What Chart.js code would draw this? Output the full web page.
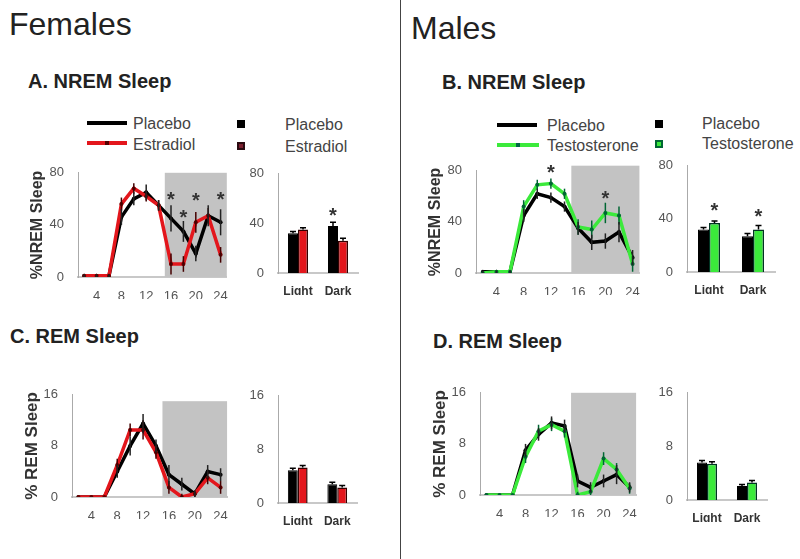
<!DOCTYPE html>
<html><head><meta charset="utf-8">
<script src="https://cdn.jsdelivr.net/npm/chart.js@4"></script>
<style>
body{margin:0;width:800px;height:559px;background:#fff;position:relative;overflow:hidden;font-family:Arial,"Liberation Sans",sans-serif;}
.t{position:absolute;white-space:nowrap;color:#222;line-height:1;}
.lg{position:absolute;white-space:nowrap;color:#444;font-size:16px;line-height:1;}
.ln{position:absolute;height:4px;}
.sq{position:absolute;width:8px;height:8px;box-sizing:border-box;}
canvas{position:absolute;}
#div{position:absolute;left:400px;top:0;width:1px;height:559px;background:#444;}
</style></head><body>
<div id="div"></div>
<div class="t" style="left:9px;top:8px;font-size:32px">Females</div>
<div class="t" style="left:411px;top:12px;font-size:32px">Males</div>
<div class="t" style="left:28px;top:71px;font-size:20px;font-weight:bold">A. NREM Sleep</div>
<div class="t" style="left:442px;top:72px;font-size:20px;font-weight:bold">B. NREM Sleep</div>
<div class="t" style="left:10px;top:326px;font-size:20px;font-weight:bold">C. REM Sleep</div>
<div class="t" style="left:433px;top:331px;font-size:20px;font-weight:bold">D. REM Sleep</div>

<div class="ln" style="left:87px;top:121px;width:40px;background:#000"></div>
<div class="lg" style="left:133px;top:116px">Placebo</div>
<div class="ln" style="left:87px;top:141px;width:40px;background:#e3161c"></div>
<div class="sq" style="left:105px;top:141px;width:4px;height:4px;background:#500"></div>
<div class="lg" style="left:133px;top:137px">Estradiol</div>
<div class="sq" style="left:237px;top:120px;background:#000"></div>
<div class="lg" style="left:285px;top:117px">Placebo</div>
<div class="sq" style="left:237px;top:142px;background:#7a1f2f;border:2px solid #2a0a10"></div>
<div class="lg" style="left:285px;top:139px">Estradiol</div>

<div class="ln" style="left:497px;top:123px;width:40px;background:#000"></div>
<div class="lg" style="left:547px;top:118px">Placebo</div>
<div class="ln" style="left:497px;top:143px;width:42px;background:#3bea3b"></div>
<div class="sq" style="left:516px;top:143px;width:4px;height:4px;background:#064"></div>
<div class="lg" style="left:547px;top:138px">Testosterone</div>
<div class="sq" style="left:655px;top:120px;background:#000"></div>
<div class="lg" style="left:702px;top:116px">Placebo</div>
<div class="sq" style="left:655px;top:140px;background:#3bea3b;border:2px solid #063"></div>
<div class="lg" style="left:702px;top:136px">Testosterone</div>

<canvas id="cA" width="204" height="140" style="left:28px;top:159px"></canvas>
<canvas id="cAb" width="114" height="135" style="left:248px;top:160px"></canvas>
<canvas id="cB" width="218" height="138" style="left:426px;top:157px"></canvas>
<canvas id="cBb" width="122" height="142" style="left:657px;top:152px"></canvas>
<canvas id="cC" width="210" height="138" style="left:22px;top:381px"></canvas>
<canvas id="cCb" width="113" height="143" style="left:248px;top:382px"></canvas>
<canvas id="cD" width="211" height="138" style="left:430px;top:379px"></canvas>
<canvas id="cDb" width="114" height="143" style="left:657px;top:379px"></canvas>

<script>
/* data */
const hours = [2,4,6,8,10,12,14,16,18,20,22,24];
const hourTicks = [4,8,12,16,20,24];
const phases = ["Light","Dark"];
const nremTicks = [0,40,80];
const remTicks = [0,8,16];

const aPlacebo   = [1,1,1,46,60,65,55,45,35,18,47,42];
const aPlaceboE  = [1,1,1,6,5,6,4,10,8,6,8,10];
const aEstradiol = [1,1,1,56,68,62,55,10,10,42,47,17];
const aEstradiolE= [1,1,1,5,4,4,4,8,6,8,6,6];
const aStarsX = [16,18,20,24];
const aStarsY = [63,49,62,63];

const bPlacebo   = [1,1,1,45,62,59,52,35,24,25,32,12];
const bPlaceboE  = [1,1,1,5,4,4,4,5,6,6,8,6];
const bTesto     = [0,1,1,52,69,70,62,36,34,47,45,7];
const bTestoE    = [1,1,1,5,4,4,4,6,7,8,7,6];
const bStarsX = [12,20];
const bStarsY = [82,62];

const cPlacebo   = [0,0,0,4,8,11.5,8,3.5,2,0.5,4,3.5];
const cPlaceboE  = [0,0,0,1,1.5,1.5,1,1.5,1,0.5,1,1];
const cEstradiol = [0,0,0,5,10.5,10.5,7,1.5,0,0.5,3,1.5];
const cEstradiolE= [0,0,0,1,1,1.5,1,1,0.5,0.5,1,1];

const dPlacebo   = [0,0,0,7,9.5,11.3,10.8,2.2,1.2,2.2,3.2,1.2];
const dPlaceboE  = [0,0,0,1,1,1,1,1,0.8,1,1.5,0.8];
const dTesto     = [0,0,0,6,10,11,10,0,0.5,5.7,4,1];
const dTestoE    = [0,0,0,1,1,1,1,0.5,0.5,1,1,0.8];

const abPlacebo = [32,38], abPlaceboE = [1.5,3];
const abEstradiol = [35,26], abEstradiolE = [1.5,2];
const bbPlacebo = [32,27], bbPlaceboE = [1.5,2];
const bbTesto = [37,32], bbTestoE = [1.5,3];
const cbPlacebo = [4.9,2.8], cbPlaceboE = [0.3,0.3];
const cbEstradiol = [5.3,2.3], cbEstradiolE = [0.3,0.3];
const dbPlacebo = [5.6,2.1], dbPlaceboE = [0.3,0.2];
const dbTesto = [5.4,2.6], dbTestoE = [0.3,0.3];

const RED="#e3161c", GREEN="#3bea3b";

/* plugins: dark-phase shading, error bars, significance stars */
const shade = {id:"shade", beforeDatasetsDraw(ch,a,o){
  if(!o.range) return;
  const x=ch.scales.x, y=ch.scales.y, c=ch.ctx;
  const x0=x.getPixelForValue(o.range[0]), x1=x.getPixelForValue(o.range[1]);
  const y0=y.getPixelForValue(o.top), y1=y.getPixelForValue(0);
  c.save(); c.fillStyle="#c3c3c3"; c.fillRect(x0,y0,x1-x0,y1-y0); c.restore();
}};
const errBars = {id:"errBars", afterDatasetsDraw(ch){
  const c=ch.ctx, y=ch.scales.y;
  ch.data.datasets.forEach((ds,di)=>{
    if(!ds.errs) return;
    const meta=ch.getDatasetMeta(di);
    c.save(); c.strokeStyle=ds.errColor; c.lineWidth=1.5;
    meta.data.forEach((el,i)=>{
      const d=ds.data[i], v=typeof d==="object"?d.y:d, e=ds.errs[i];
      if(!e) return;
      const lo = ds.type==="bar" ? v : Math.max(0,v-e);
      const y0=y.getPixelForValue(v+e), y1=y.getPixelForValue(lo);
      c.beginPath(); c.moveTo(el.x,y0); c.lineTo(el.x,y1);
      if(ds.type==="bar"){ c.moveTo(el.x-3,y0); c.lineTo(el.x+3,y0); }
      c.stroke();
    });
    c.restore();
  });
}};
const stars = {id:"stars", afterDraw(ch,a,o){
  if(!o.y) return;
  const c=ch.ctx, y=ch.scales.y;
  c.save(); c.fillStyle="#333"; c.font="bold 20px Arial"; c.textAlign="center"; c.textBaseline="alphabetic";
  o.y.forEach((v,i)=>{
    const px = o.x ? ch.scales.x.getPixelForValue(o.x[i]) : ch.getDatasetMeta(o.ds[i]).data[o.i[i]].x;
    c.fillText("*", px, y.getPixelForValue(v)+11);
  });
  c.restore();
}};
Chart.register(shade, errBars, stars);

const tickFont = {family:"Arial", size:13};
function yScale(ticks, title, tsize, w){
  return {min:0, max:ticks[ticks.length-1], afterBuildTicks:s=>{s.ticks=ticks.map(v=>({value:v}));},
    afterFit:s=>{s.width=w;}, grid:{display:false}, border:{color:"#aaa",width:1},
    ticks:{color:"#555", font:tickFont, padding:6},
    title:{display:!!title, text:title, color:"#333", font:{family:"Arial",size:tsize,weight:"bold"}, padding:0}};
}
function pts(vals){ return hours.map((h,i)=>({x:h,y:vals[i]})); }
function lineDs(vals, errs, col, ptCol, errCol){
  return {type:"line", data:pts(vals), errs, errColor:errCol, borderColor:col, borderWidth:3.5,
    pointRadius:2, pointBackgroundColor:ptCol, pointBorderWidth:0, tension:0};
}

function lineChart(id, treat, yTicks, title, tsize, shadeTop, starX, starY){
  new Chart(document.getElementById(id), {
    data:{datasets:[treat, ...arguments[8]]},
    options:{responsive:false, animation:false, devicePixelRatio:1,
      layout:{padding:{top:8,right:4,left:0,bottom:0}},
      plugins:{legend:{display:false}, tooltip:{enabled:false},
        shade:{range:[15,25], top:shadeTop}, stars:{x:starX, y:starY}},
      scales:{
        x:{type:"linear", min:1, max:25, afterBuildTicks:s=>{s.ticks=hourTicks.map(v=>({value:v}));},
          afterFit:s=>{s.height=22;}, grid:{display:false}, border:{color:"#c8c8c8",width:2},
          ticks:{color:"#555", font:tickFont, padding:4}},
        y:yScale(yTicks, title, tsize, 50)
      }}
  });
}

function barChart(id, plc, plcE, trt, trtE, trtCol, trtEdge, yTicks, st){
  new Chart(document.getElementById(id), {
    data:{labels:phases, datasets:[
      {type:"bar", data:plc, errs:plcE, errColor:"#000", backgroundColor:"#000", borderColor:"#000", borderWidth:1, categoryPercentage:0.5, barPercentage:1},
      {type:"bar", data:trt, errs:trtE, errColor:"#000", backgroundColor:trtCol, borderColor:trtEdge, borderWidth:1.5, categoryPercentage:0.5, barPercentage:1}
    ]},
    options:{responsive:false, animation:false, devicePixelRatio:1,
      layout:{padding:{top:8,right:4,left:0,bottom:0}},
      plugins:{legend:{display:false}, tooltip:{enabled:false}, stars:st||{}},
      scales:{
        x:{afterFit:s=>{s.height=22;}, grid:{display:false}, border:{color:"#c8c8c8",width:2},
          ticks:{color:"#333", font:{family:"Arial",size:12,weight:"bold"}, padding:3}},
        y:yScale(yTicks, "", 0, 30)
      }}
  });
}

lineChart("cA", lineDs(aEstradiol,aEstradiolE,RED,"#600","#400"), nremTicks, "%NREM Sleep", 16, 80, aStarsX, aStarsY,
  [lineDs(aPlacebo,aPlaceboE,"#000","#000","#222")]);
lineChart("cB", lineDs(bTesto,bTestoE,GREEN,"#063","#063"), nremTicks, "%NREM Sleep", 16, 84, bStarsX, bStarsY,
  [lineDs(bPlacebo,bPlaceboE,"#000","#000","#222")]);
lineChart("cC", lineDs(cEstradiol,cEstradiolE,RED,"#600","#400"), remTicks, "% REM Sleep", 17, 15, null, null,
  [lineDs(cPlacebo,cPlaceboE,"#000","#000","#222")]);
lineChart("cD", lineDs(dTesto,dTestoE,GREEN,"#063","#063"), remTicks, "% REM Sleep", 17, 16, null, null,
  [lineDs(dPlacebo,dPlaceboE,"#000","#000","#222")]);

barChart("cAb", abPlacebo, abPlaceboE, abEstradiol, abEstradiolE, RED, "#300", nremTicks, {ds:[0], i:[1], y:[50]});
barChart("cBb", bbPlacebo, bbPlaceboE, bbTesto, bbTestoE, GREEN, "#032", nremTicks, {ds:[1,1], i:[0,1], y:[50,45]});
barChart("cCb", cbPlacebo, cbPlaceboE, cbEstradiol, cbEstradiolE, RED, "#300", remTicks);
barChart("cDb", dbPlacebo, dbPlaceboE, dbTesto, dbTestoE, GREEN, "#032", remTicks);
</script>
</body></html>
